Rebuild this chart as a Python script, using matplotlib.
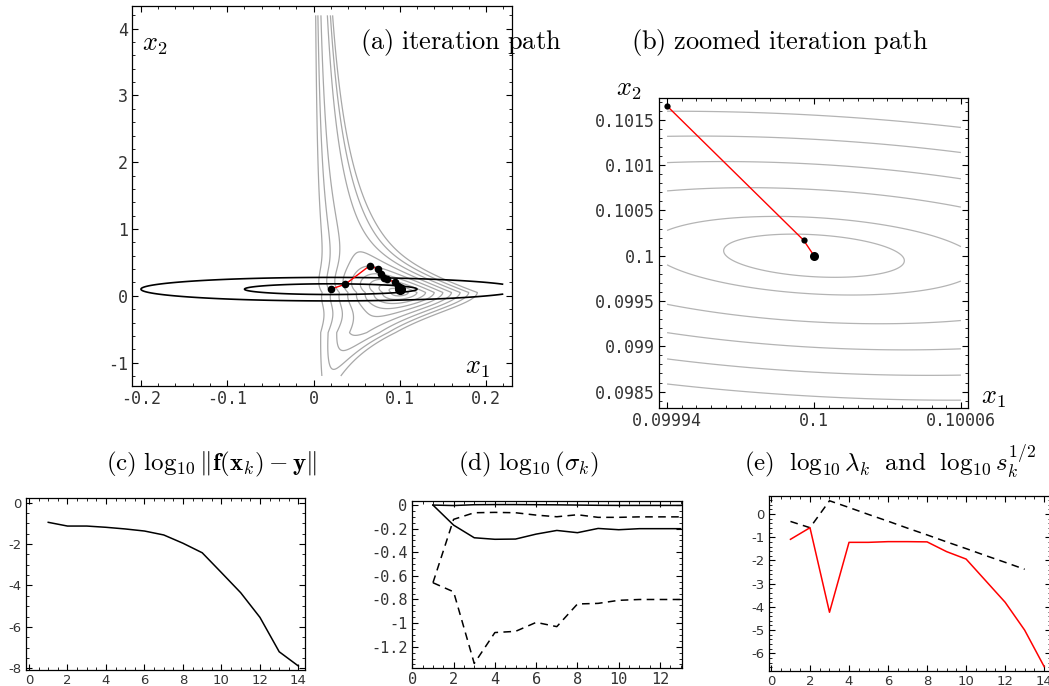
import numpy as np
import matplotlib
matplotlib.use('Agg')
import matplotlib.pyplot as plt
from matplotlib.ticker import MultipleLocator, AutoMinorLocator, FixedLocator, FuncFormatter

plt.rcParams['mathtext.fontset'] = 'cm'
plt.rcParams['axes.unicode_minus'] = False

W, H = 1049, 686

# iterates x_k (k = 1..14) (a) and (b)
X1_PATH = [0.020, 0.037, 0.065, 0.075, 0.078, 0.082, 0.085, 0.095, 0.098, 0.0995,
           0.09990, 0.09994, 0.0999958, 0.1]
X2_PATH = [0.100, 0.175, 0.450, 0.400, 0.330, 0.270, 0.250, 0.200, 0.150, 0.105,
           0.1021, 0.101653, 0.100170, 0.1]

# grey misfit levels (fraction of ||y||) and black ellipse levels in (a)
A_LEVELS = [0.1, 0.2, 0.3, 0.4, 0.5, 0.6, 0.7, 0.8, 0.9]
ELL_CENTER = (0.02, 0.1)
ELL_RADII = (0.1, 0.08)
ELL_LEVELS = [1.0, 2.2]

# local quadratic picture in (b)
B_HALF = (3.69e-5, 2.32e-4)
B_SHEAR = 1.49
B_LEVELS = [1.0, 1.82, 3.15, 4.36, 5.54, 6.69]
B_XTICKS = [0.09994, 0.1, 0.10006]

# (c) log10 residual
K_RES = list(range(1, 15))
LOG_RES = [-0.95, -1.13, -1.13, -1.19, -1.27, -1.37, -1.56, -1.96, -2.42, -3.38,
           -4.35, -5.54, -7.20, -7.89]

# (d) log10 singular values, two runs
K_SIG = list(range(1, 14))
SIG1_SOLID = [0.0, -0.004, 0.003, 0.004, 0.004, 0.003, 0.002, 0.0, -0.002, -0.003,
              -0.003, -0.003, -0.003]
SIG2_SOLID = [0.0, -0.17, -0.277, -0.29, -0.288, -0.246, -0.215, -0.234, -0.198,
              -0.209, -0.20, -0.20, -0.20]
SIG1_DASH = [-0.658, -0.121, -0.065, -0.062, -0.065, -0.085, -0.099, -0.082, -0.104,
             -0.104, -0.10, -0.10, -0.10]
SIG2_DASH = [-0.658, -0.735, -1.342, -1.08, -1.07, -0.994, -1.03, -0.838, -0.833,
             -0.807, -0.80, -0.80, -0.80]

# (e) log10 lambda_k and log10 s_k^(1/2)
K_LAM = list(range(1, 15))
LOG_LAM = [-1.09, -0.59, -4.23, -1.22, -1.22, -1.19, -1.19, -1.20, -1.62, -1.94,
           -2.87, -3.80, -5.00, -6.57]
K_S = list(range(1, 14))
LOG_S = [-0.32, -0.59, 0.57, 0.28, -0.02, -0.31, -0.61, -0.90, -1.20, -1.49,
         -1.79, -2.08, -2.38]


def misfit(x1, x2):
    # ||f(x)-y|| / ||y|| for a model of the form x1 * g(x2):
    # centre m, width m*k and least residual r along each line x2 = const
    d = x2 - 0.05
    up = d >= 0
    ad = np.abs(d)
    m = np.where(up, 0.1 / (1 + 1.332 * ad + 0.0916 * ad ** 2),
                 0.1 / (1 + 0.155 * ad + 2.333 * ad ** 2))
    k = np.where(up, 1 + 0.3 * np.tanh(1.5 * ad), 1 + 0.4 * ad ** 1.2)
    r = np.where(up, 0.66 * np.tanh(ad / 0.4),
                 0.6 * np.tanh(ad / 0.3) + 0.45 * np.tanh(np.maximum(ad - 0.6, 0) / 1.15))
    return np.sqrt(((x1 - m) / (m * k)) ** 2 + r ** 2)


def px_axes(fig, left, top, right, bottom):
    return fig.add_axes([left / W, 1 - bottom / H, (right - left) / W, (bottom - top) / H])


def gfmt(v, pos):
    return '%g' % (round(v, 9) + 0.0)


def frame(ax, fontsize, family, minor_x, minor_y):
    ax.xaxis.set_minor_locator(AutoMinorLocator(minor_x))
    ax.yaxis.set_minor_locator(AutoMinorLocator(minor_y))
    ax.xaxis.set_major_formatter(FuncFormatter(gfmt))
    ax.yaxis.set_major_formatter(FuncFormatter(gfmt))
    ax.tick_params(which='both', direction='in', top=True, right=True,
                   labelsize=fontsize, labelcolor='#333333')
    ax.tick_params(which='major', length=4, width=0.8, pad=3)
    ax.tick_params(which='minor', length=2.2, width=0.6)
    for lab in ax.get_xticklabels() + ax.get_yticklabels():
        lab.set_family(family)
    for sp in ax.spines.values():
        sp.set_linewidth(0.9)


fig = plt.figure(figsize=(W / 100, H / 100), dpi=100)

# ---- (a) iteration path
axa = px_axes(fig, 132, 6, 512, 386)
g1, g2 = np.meshgrid(np.linspace(-0.2, 0.22, 700), np.linspace(-1.2, 4.2, 1800))
axa.contour(g1, g2, misfit(g1, g2), levels=A_LEVELS, colors='#a8a8a8', linewidths=0.9)
ell = np.sqrt(((g1 - ELL_CENTER[0]) / ELL_RADII[0]) ** 2 + ((g2 - ELL_CENTER[1]) / ELL_RADII[1]) ** 2)
axa.contour(g1, g2, ell, levels=ELL_LEVELS, colors='black', linewidths=1.2)
axa.plot(X1_PATH, X2_PATH, color='red', lw=1.0)
axa.plot(X1_PATH[:-1], X2_PATH[:-1], 'o', color='black', ms=5.5, mew=0)
axa.plot(X1_PATH[-1:], X2_PATH[-1:], 'o', color='black', ms=8, mew=0)
axa.set_xlim(-0.2104, 0.2301)
axa.set_ylim(-1.35, 4.34)
axa.xaxis.set_major_locator(MultipleLocator(0.1))
axa.yaxis.set_major_locator(MultipleLocator(1))
frame(axa, 12, 'DejaVu Sans Mono', 5, 5)
axa.text(0.06, 0.9, r'$x_2$', transform=axa.transAxes, fontsize=19, ha='center', va='center')
axa.text(0.91, 0.05, r'$x_1$', transform=axa.transAxes, fontsize=19, ha='center', va='center')

# ---- (b) zoomed iteration path
axb = px_axes(fig, 659, 98.3, 968, 407.7)
h1, h2 = np.meshgrid(np.linspace(B_XTICKS[0], B_XTICKS[-1], 400), np.linspace(0.0983, 0.1017, 400))
u = (h1 - 0.1) / B_HALF[0]
v = ((h2 - 0.1) + B_SHEAR * (h1 - 0.1)) / B_HALF[1]
axb.contour(h1, h2, np.sqrt(u ** 2 + v ** 2), levels=B_LEVELS, colors='#b4b4b4', linewidths=0.9)
axb.plot(X1_PATH[-3:], X2_PATH[-3:], color='red', lw=1.0)
axb.plot(X1_PATH[-3:-1], X2_PATH[-3:-1], 'o', color='black', ms=4.5, mew=0)
axb.plot(X1_PATH[-1:], X2_PATH[-1:], 'o', color='black', ms=6.5, mew=0)
axb.set_xlim(0.0999367, 0.1000629)
axb.set_ylim(0.098322, 0.101738)
axb.xaxis.set_major_locator(FixedLocator(B_XTICKS))
axb.yaxis.set_major_locator(MultipleLocator(0.0005))
frame(axb, 12, 'DejaVu Sans Mono', 10, 5)
fig.text(629 / W, 1 - 89 / H, r'$x_2$', fontsize=19, ha='center', va='center')
fig.text(993 / W, 1 - 397 / H, r'$x_1$', fontsize=19, ha='center', va='center')

# ---- (c) residual
axc = px_axes(fig, 26, 498.3, 305, 670)
axc.plot(K_RES, LOG_RES, color='black', lw=1.1)
axc.set_xlim(-0.156, 14.34)
axc.set_ylim(-8.08, 0.21)
axc.xaxis.set_major_locator(MultipleLocator(2))
axc.yaxis.set_major_locator(MultipleLocator(2))
frame(axc, 9.5, 'DejaVu Sans', 4, 4)

# ---- (d) singular values
axd = px_axes(fig, 411.7, 500.7, 681.7, 668.3)
axd.plot(K_SIG, SIG1_SOLID, color='black', lw=1.1)
axd.plot(K_SIG, SIG2_SOLID, color='black', lw=1.1)
axd.plot(K_SIG, SIG1_DASH, color='black', lw=1.1, dashes=(5, 3.5))
axd.plot(K_SIG, SIG2_DASH, color='black', lw=1.1, dashes=(5, 3.5))
axd.set_xlim(-0.03, 13.05)
axd.set_ylim(-1.383, 0.037)
axd.xaxis.set_major_locator(MultipleLocator(2))
axd.yaxis.set_major_locator(MultipleLocator(0.2))
frame(axd, 11, 'DejaVu Sans Mono', 4, 4)

# ---- (e) lambda and s
axe = px_axes(fig, 769, 496, 1051, 670.7)
axe.plot(K_S, LOG_S, color='black', lw=1.1, dashes=(5, 3.5))
axe.plot(K_LAM, LOG_LAM, color='red', lw=1.1)
axe.set_xlim(-0.1, 14.35)
axe.set_ylim(-6.746, 0.775)
axe.xaxis.set_major_locator(MultipleLocator(2))
axe.yaxis.set_major_locator(MultipleLocator(1))
frame(axe, 9.5, 'DejaVu Sans', 4, 5)

# ---- titles
fig.text(461 / W, 1 - 42 / H, r'$\mathrm{(a)\ iteration\ path}$', fontsize=19, ha='center', va='center')
fig.text(780 / W, 1 - 42 / H, r'$\mathrm{(b)\ zoomed\ iteration\ path}$', fontsize=19, ha='center', va='center')
fig.text(211 / W, 1 - 464 / H, r'$\mathrm{(c)}\ \log_{10}\Vert\mathbf{f}(\mathbf{x}_k)-\mathbf{y}\Vert$',
         fontsize=18, ha='center', va='center')
fig.text(528 / W, 1 - 464 / H, r'$\mathrm{(d)}\ \log_{10}(\sigma_k)$', fontsize=18, ha='center', va='center')
fig.text(890 / W, 1 - 461 / H, r'$\mathrm{(e)}\ \ \log_{10}\lambda_k\ \ \mathrm{and}\ \ \log_{10}s_k^{1/2}$',
         fontsize=18, ha='center', va='center')

fig.savefig('out.png', dpi=100)
